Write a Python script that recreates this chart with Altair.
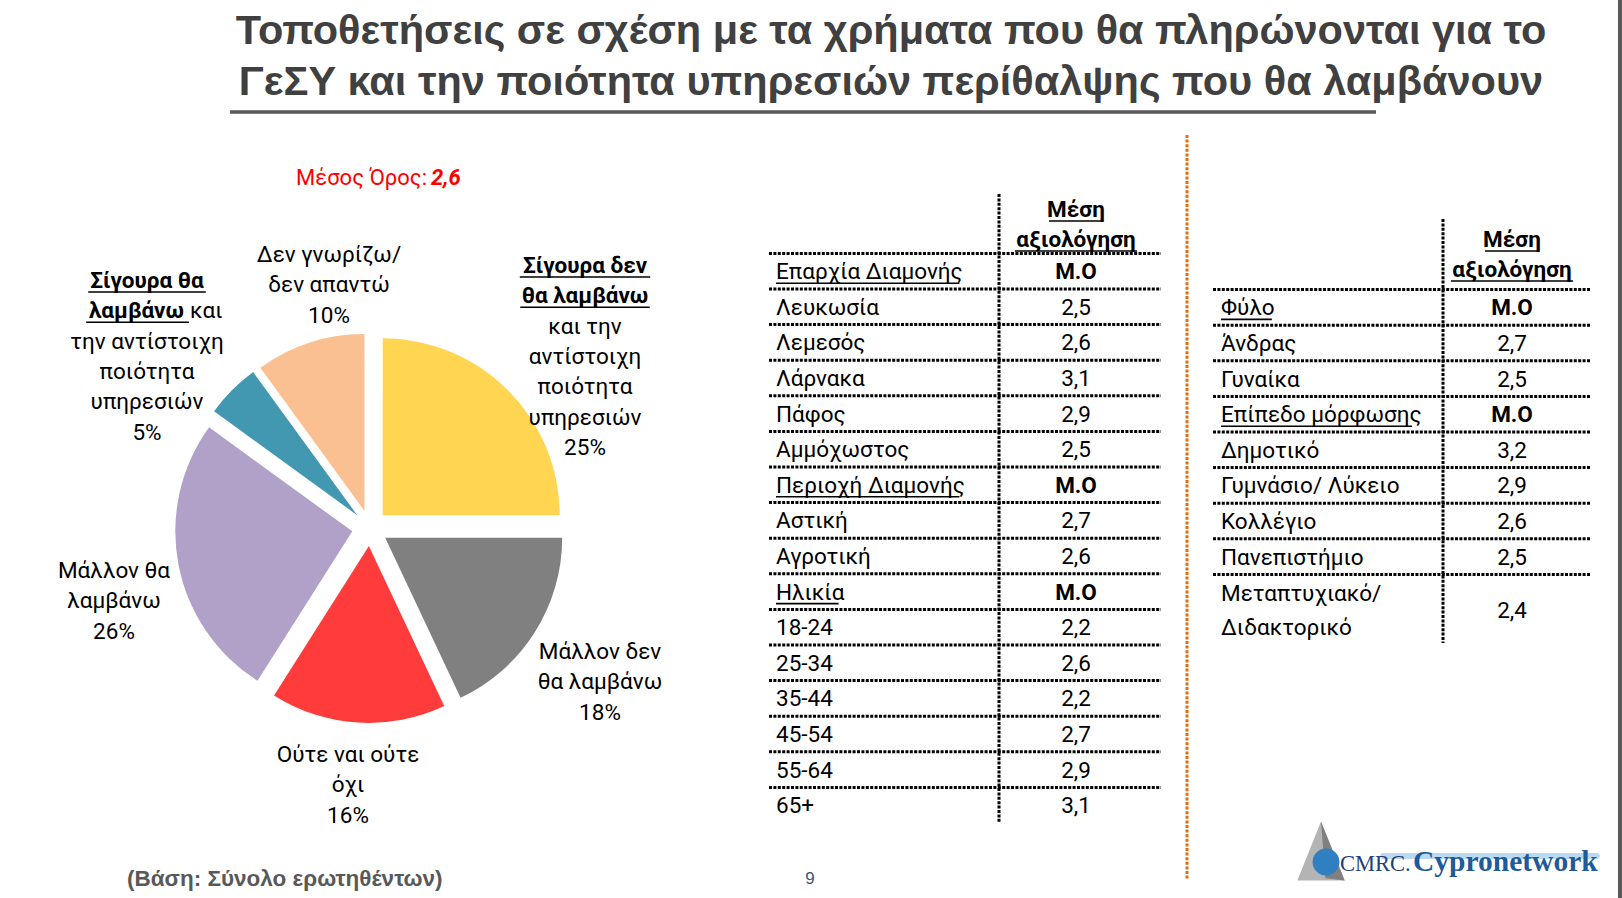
import altair as alt
import pandas as pd

W, H = 1622, 898

# ---------------- data ----------------
TITLE_LINES = ["Τοποθετήσεις σε σχέση με τα χρήματα που θα πληρώνονται για το",
               "ΓεΣΥ και την ποιότητα υπηρεσιών περίθαλψης που θα λαμβάνουν"]
MEAN_LABEL = "Μέσος Όρος:"
MEAN_VALUE = "2,6"
FOOTER = "(Βάση: Σύνολο ερωτηθέντων)"
PAGE = "9"

slice_names = ["Σίγουρα δεν θα λαμβάνω", "Μάλλον δεν θα λαμβάνω", "Ούτε ναι ούτε όχι",
               "Μάλλον θα λαμβάνω", "Σίγουρα θα λαμβάνω", "Δεν γνωρίζω/ δεν απαντώ"]
slice_pcts = [25, 18, 16, 26, 5, 10]
slice_colors = ["#FFD551", "#808080", "#FF3B3B", "#B1A0C7", "#4298B0", "#FAC091"]
# label lines: list of lines, each line a list of (text, style) ; style "bu" = bold underlined
slice_label_lines = [
    [[("Σίγουρα δεν", "bu")], [("θα λαμβάνω", "bu")], [("και την", "n")],
     [("αντίστοιχη", "n")], [("ποιότητα", "n")], [("υπηρεσιών", "n")]],
    [[("Μάλλον δεν", "n")], [("θα λαμβάνω", "n")]],
    [[("Ούτε ναι ούτε", "n")], [("όχι", "n")]],
    [[("Μάλλον θα", "n")], [("λαμβάνω", "n")]],
    [[("Σίγουρα θα", "bu")], [("λαμβάνω", "bu"), ("και", "n")], [("την αντίστοιχη", "n")],
     [("ποιότητα", "n")], [("υπηρεσιών", "n")]],
    [[("Δεν γνωρίζω/", "n")], [("δεν απαντώ", "n")]],
]

T_HEADER = ["Μέση", "αξιολόγηση"]
t1_labels = ["Επαρχία Διαμονής", "Λευκωσία", "Λεμεσός", "Λάρνακα", "Πάφος", "Αμμόχωστος",
             "Περιοχή Διαμονής", "Αστική", "Αγροτική", "Ηλικία", "18-24", "25-34", "35-44",
             "45-54", "55-64", "65+"]
t1_values = [None, 2.5, 2.6, 3.1, 2.9, 2.5, None, 2.7, 2.6, None, 2.2, 2.6, 2.2, 2.7, 2.9, 3.1]
t2_labels = ["Φύλο", "Άνδρας", "Γυναίκα", "Επίπεδο μόρφωσης", "Δημοτικό", "Γυμνάσιο/ Λύκειο",
             "Κολλέγιο", "Πανεπιστήμιο", "Μεταπτυχιακό/\nΔιδακτορικό"]
t2_values = [None, 2.7, 2.5, None, 3.2, 2.9, 2.6, 2.5, 2.4]
GROUP_VALUE = "Μ.Ο"
LOGO_A, LOGO_B = "CMRC.", "Cypronetwork"

# ---------------- layout / style ----------------
BODY = "Roboto, 'Open Sans', sans-serif"
TITLE_FONT = "'Liberation Sans', Arial, sans-serif"
NARROW = "'Liberation Sans Narrow', 'Liberation Sans', sans-serif"
ARIAL = "'Liberation Sans', Arial, sans-serif"
SERIF = "'Liberation Serif', 'DejaVu Serif', serif"
FS = 22.5          # body font size
LS = 30.3          # pie label line spacing
PCX, PCY, R, EXPLODE = 370, 528, 177, 18
LABEL_ANCHORS = [(585, 266), (600, 652), (348, 755), (114, 571), (147, 281), (329, 255)]
SPLIT_DX = 37
RH = 35.6
T1 = dict(x0=769, xdiv=999, x1=1161, top=253.4, vy0=194, vy1=822, lx=776, vx=1076, hy=210)
T2 = dict(x0=1213, xdiv=1443, x1=1590, top=289.6, vy0=219, vy1=643, lx=1221, vx=1512, hy=240)


def est_w(s, size, bold=False):
    w = 0.0
    for ch in s:
        if ch == " ":
            w += 0.25
        elif ch in ".,/":
            w += 0.27
        elif ch.isdigit():
            w += 0.56
        elif ch.isupper():
            w += 0.64
        elif ch in "ιίϊΐ":
            w += 0.26
        elif ch in "ωώμ":
            w += 0.70
        else:
            w += 0.54
    return w * size * (1.06 if bold else 1.0)


texts = []
ulines = []
dots = []


def add_text(text, x, y, size=FS, color="#000000", font=BODY, weight="normal",
             style="normal", align="center", baseline="middle"):
    texts.append(dict(text=text, x=x, y=y, size=size, color=color, font=font,
                      weight=weight, fstyle=style, align=align, baseline=baseline))


def add_uline(x0, x1, y, color="#000000", sw=1.6):
    ulines.append(dict(x=x0, x2=x1, y=y, color=color, sw=sw))


UL_OFF = 11

# title
add_text(TITLE_LINES[0], 891, 44, size=41.5, color="#404040", font=TITLE_FONT, weight="bold",
         baseline="alphabetic")
add_text(TITLE_LINES[1], 891, 95, size=41.5, color="#404040", font=TITLE_FONT, weight="bold",
         baseline="alphabetic")
add_uline(230, 1376, 112, color="#595959", sw=3.5)

# mean
add_text(MEAN_LABEL, 427, 178, size=22, color="#FF0000", align="right")
add_text(MEAN_VALUE, 431, 178, size=22, color="#FF0000", weight="bold", style="italic",
         align="left")

# pie labels
for i, lines in enumerate(slice_label_lines):
    cx, y0 = LABEL_ANCHORS[i]
    all_lines = lines + [[(f"{slice_pcts[i]}%", "n")]]
    for j, segs in enumerate(all_lines):
        y = y0 + j * LS
        if len(segs) == 1:
            t, st = segs[0]
            bold = st == "bu"
            add_text(t, cx, y, weight="bold" if bold else "normal")
            if bold:
                w = est_w(t, FS, True)
                add_uline(cx - w / 2, cx + w / 2, y + UL_OFF)
        else:
            (t1, s1), (t2, s2) = segs
            add_text(t1, cx + SPLIT_DX, y, weight="bold", align="right")
            w = est_w(t1, FS, True)
            add_uline(cx + SPLIT_DX - w, cx + SPLIT_DX + 5, y + UL_OFF)
            add_text(t2, cx + SPLIT_DX + 6, y, align="left")


def fmt(v):
    return f"{v:.1f}".replace(".", ",")


def build_table(T, labels, values, spans):
    for k, h in enumerate(T_HEADER):
        y = T["hy"] + k * 30
        add_text(h, T["vx"], y, weight="bold")
        w = est_w(h, FS, True)
        add_uline(T["vx"] - w / 2, T["vx"] + w / 2, y + UL_OFF)
    y = T["top"]
    dots.append(dict(x=T["x0"], x2=T["x1"], y=y, y2=y))
    n = len(labels)
    for i, (lab, val) in enumerate(zip(labels, values)):
        h = spans[i] * RH
        cy = y + h / 2 + 1
        is_group = val is None
        sub = lab.split("\n")
        for k, part in enumerate(sub):
            ly = cy + (k - (len(sub) - 1) / 2) * 34
            add_text(part, T["lx"], ly, align="left")
            if is_group:
                add_uline(T["lx"], T["lx"] + est_w(part, FS), ly + UL_OFF)
        if is_group:
            add_text(GROUP_VALUE, T["vx"], cy, weight="bold")
        else:
            add_text(fmt(val), T["vx"], cy)
        y += h
        if i < n - 1:
            dots.append(dict(x=T["x0"], x2=T["x1"], y=y, y2=y))
    dots.append(dict(x=T["xdiv"], x2=T["xdiv"], y=T["vy0"], y2=T["vy1"]))


build_table(T1, t1_labels, t1_values, [1] * len(t1_labels))
build_table(T2, t2_labels, t2_values, [1] * (len(t2_labels) - 1) + [2])

# footer
add_text(FOOTER, 127, 879, size=22.5, color="#595959", font=ARIAL, weight="bold", align="left")
add_text(PAGE, 810, 879, size=17, color="#44546A", font=NARROW, align="center")

# logo text
add_text(LOGO_A, 1340, 871, size=22.5, color="#23407A", font=SERIF, align="left",
         baseline="alphabetic")
add_text(LOGO_B, 1413, 871, size=29.5, color="#1F5A9A", font=SERIF, weight="bold",
         align="left", baseline="alphabetic")

# ---------------- layers ----------------
layers = []

# pie
pie_df = pd.DataFrame(dict(name=slice_names, pct=slice_pcts, order=list(range(len(slice_names)))))
pie = alt.Chart(pie_df).transform_window(
    cum="sum(pct)", sort=[alt.SortField("order")], frame=[None, 0]
).transform_calculate(
    a0="(datum.cum - datum.pct) / 100 * 2 * PI",
    a1="datum.cum / 100 * 2 * PI",
).transform_calculate(
    mid="(datum.a0 + datum.a1) / 2"
).transform_calculate(
    cx=f"{PCX} + {EXPLODE} * sin(datum.mid)",
    cy=f"{PCY} - {EXPLODE} * cos(datum.mid)",
).mark_arc(radius=R, stroke=None).encode(
    theta=alt.Theta("a0:Q", scale=None, stack=None),
    theta2="a1:Q",
    x=alt.X("cx:Q", scale=None, axis=None),
    y=alt.Y("cy:Q", scale=None, axis=None),
    color=alt.Color("name:N", scale=alt.Scale(domain=slice_names, range=slice_colors), legend=None),
)
layers.append(pie)

# dotted table lines
layers.append(alt.Chart(pd.DataFrame(dots)).mark_rule(
    color="#000000", strokeWidth=3, strokeDash=[3, 1.4]).encode(
    x=alt.X("x:Q", scale=None, axis=None), x2="x2:Q",
    y=alt.Y("y:Q", scale=None, axis=None), y2="y2:Q"))

# orange dotted separator
sep = pd.DataFrame([dict(x=1187, y=135, y2=880)])
layers.append(alt.Chart(sep).mark_rule(color="#E46C0A", strokeWidth=3, strokeDash=[3, 1.6]).encode(
    x=alt.X("x:Q", scale=None, axis=None), y=alt.Y("y:Q", scale=None, axis=None), y2="y2:Q"))

# right gray bar
bar = pd.DataFrame([dict(x=1618, x2=1622, y=0, y2=H)])
layers.append(alt.Chart(bar).mark_rect(color="#595959").encode(
    x=alt.X("x:Q", scale=None, axis=None), x2="x2:Q",
    y=alt.Y("y:Q", scale=None, axis=None), y2="y2:Q"))

# logo shapes
logo = pd.DataFrame([
    dict(x=1321, y=851, shape="M0,-1L0.8,1L-0.8,1Z", size=3500, color="#B4B4B4"),
    dict(x=1321, y=851, shape="M0,-1L0.8,1L0.15,0.92Z", size=3500, color="#808080"),
])
for _, r_ in logo.iterrows():
    layers.append(alt.Chart(pd.DataFrame([r_])).mark_point(
        shape=r_["shape"], filled=True, opacity=1, color=r_["color"], strokeWidth=0).encode(
        x=alt.X("x:Q", scale=None, axis=None), y=alt.Y("y:Q", scale=None, axis=None),
        size=alt.value(r_["size"])))
swoosh = pd.DataFrame([dict(x=1380, x2=1600, y=853, y2=859)])
layers.append(alt.Chart(swoosh).mark_rect(color="#9CCBEB", opacity=0.7, cornerRadius=3).encode(
    x=alt.X("x:Q", scale=None, axis=None), x2="x2:Q",
    y=alt.Y("y:Q", scale=None, axis=None), y2="y2:Q"))
globe = pd.DataFrame([dict(x=1326, y=862)])
layers.append(alt.Chart(globe).mark_circle(color="#2F7FC1", opacity=1, size=720).encode(
    x=alt.X("x:Q", scale=None, axis=None), y=alt.Y("y:Q", scale=None, axis=None)))

# underlines
layers.append(alt.Chart(pd.DataFrame(ulines)).mark_rule().encode(
    x=alt.X("x:Q", scale=None, axis=None), x2="x2:Q",
    y=alt.Y("y:Q", scale=None, axis=None),
    color=alt.Color("color:N", scale=None),
    strokeWidth=alt.StrokeWidth("sw:Q", scale=None)))

# texts grouped by style
tdf = pd.DataFrame(texts)
for key, g in tdf.groupby(["font", "weight", "fstyle", "align", "baseline"]):
    font, weight, fstyle, align, baseline = key
    layers.append(alt.Chart(g.reset_index(drop=True)).mark_text(
        font=font, fontWeight=weight, fontStyle=fstyle, align=align, baseline=baseline).encode(
        x=alt.X("x:Q", scale=None, axis=None),
        y=alt.Y("y:Q", scale=None, axis=None),
        text="text:N",
        size=alt.Size("size:Q", scale=None),
        color=alt.Color("color:N", scale=None)))

chart = alt.layer(*layers).properties(
    width=W, height=H, padding=0, autosize=alt.AutoSizeParams(type="none"),
    background="#FFFFFF"
).configure_view(stroke=None)

chart.save("out.html", embed_options={"renderer": "svg", "actions": False})
